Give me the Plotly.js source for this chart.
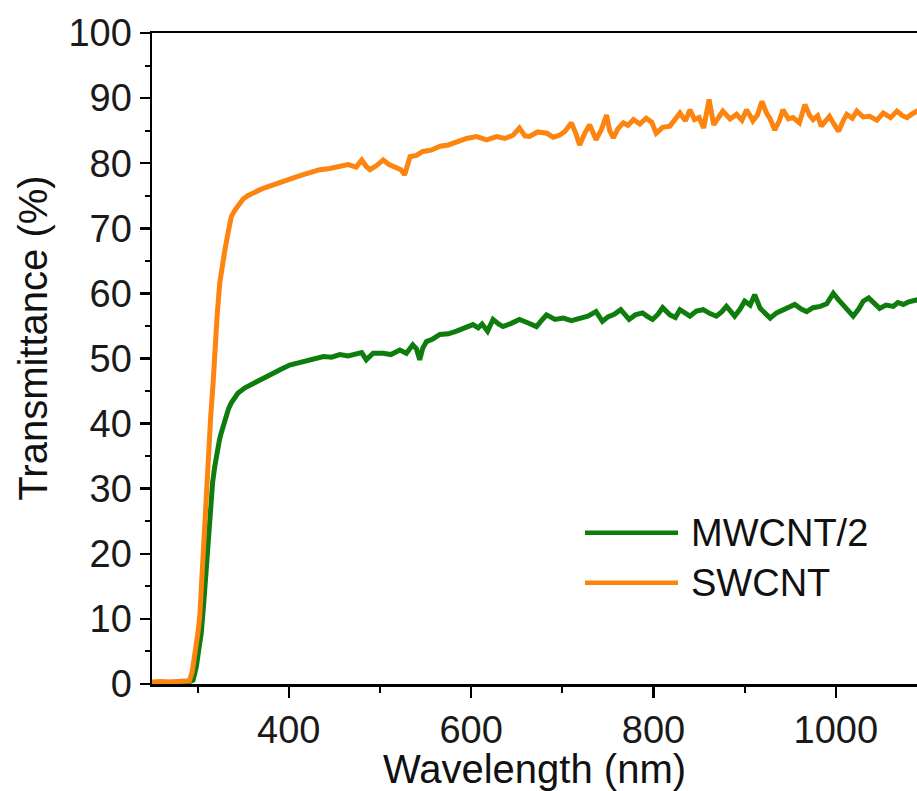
<!DOCTYPE html>
<html>
<head>
<meta charset="utf-8">
<script src="https://cdn.plot.ly/plotly-3.0.1.min.js"></script>
<style>html,body{margin:0;padding:0;background:#fff;}#chart{width:917px;height:791px;}</style>
</head>
<body>
<div id="chart"></div>
<script>
// Series names
const seriesNames = ["MWCNT/2", "SWCNT"];

// MWCNT/2 (green) wavelength (nm) and transmittance (%)
const mwcntX = [250, 260, 270, 280, 290, 295, 298.7, 301, 304, 307, 309.7, 311.5, 314.4, 316.5, 318.8, 321.4, 324, 326, 328.5, 330.9,
  334, 337, 341, 344.4, 352, 361, 372, 383, 392, 401, 410, 419, 427, 438, 447, 456, 465, 474, 480, 485,
  492.5, 503.5, 512, 521.8, 529, 536, 540, 543.6, 547, 551, 558, 565.7, 575, 584, 593, 602, 607.8, 612, 618, 624,
  630, 635, 644, 653, 662, 671.7, 677, 682.7, 692, 701, 710, 719, 728, 737, 744, 750, 757, 764, 769, 773.3,
  780, 788, 794, 799, 805, 810, 818, 824, 829, 835, 840, 847, 854.5, 862, 869, 875, 880, 885, 889, 895,
  900, 906, 911, 917, 922, 928, 935, 942, 948, 955, 962, 968, 975, 983, 990, 997.2, 1003, 1008, 1014, 1019,
  1025, 1030, 1036, 1042, 1048, 1055, 1063, 1068, 1074, 1080, 1089, 1095];
const mwcntY = [0.2, 0.2, 0.3, 0.2, 0.3, 0.6, 2.7, 5, 7.8, 12.9, 18.1, 23.2, 28.3, 31, 33.4, 36.0, 37.5, 38.6, 40, 41.1,
  42.3, 43.2, 44.1, 44.7, 45.5, 46.2, 47.0, 47.8, 48.4, 49.0, 49.3, 49.6, 49.8, 50.3, 50.2, 50.6, 50.4, 50.6, 50.9, 49.8,
  50.8, 50.8, 50.6, 51.3, 50.8, 52.1, 51.5, 49.8, 51.6, 52.6, 53.0, 53.7, 53.8, 54.2, 54.6, 55.2, 54.7, 55.3, 54.2, 56.0,
  55.3, 54.9, 55.4, 56.0, 55.5, 54.9, 55.8, 56.7, 56.0, 56.2, 55.8, 56.2, 56.5, 57.2, 55.7, 56.4, 56.8, 57.5, 56.6, 56.0,
  56.7, 57.0, 56.4, 56.0, 56.8, 57.8, 56.7, 56.3, 57.5, 57.0, 56.5, 57.3, 57.5, 56.9, 56.5, 57.2, 58.0, 57.2, 56.5, 57.6,
  58.8, 58.2, 59.8, 57.7, 57.0, 56.2, 57.0, 57.5, 58.0, 58.3, 57.6, 57.2, 57.8, 58.0, 58.4, 60.0, 59.0, 58.3, 57.4, 56.5,
  57.6, 58.8, 59.3, 58.4, 57.7, 58.2, 58.0, 58.6, 58.3, 58.7, 59.0, 58.6];

// SWCNT (orange) wavelength (nm) and transmittance (%)
const swcntX = [250, 260, 270, 280, 288, 291, 294, 296, 298.7, 300.5, 302.4, 304.2, 306, 307.8, 309.7, 312.2, 314.4, 317, 318.8, 321.4,
  324.3, 327, 330, 333.4, 337, 341, 346, 350, 355, 361, 368, 375, 382.5, 390, 397.5, 406, 415, 424, 434, 445,
  456, 465, 474, 480, 485, 489, 496, 503.5, 510, 518, 523, 527, 530, 533, 540, 547, 556, 566, 575, 584,
  595, 606, 617, 628, 637, 646, 653, 659, 664, 673, 683, 690, 697, 703, 710, 715, 719, 725, 730, 737,
  743, 748.5, 752, 756, 761, 767, 772, 778, 785, 792, 798, 803, 810, 818, 824, 829, 835, 840, 845, 850,
  855, 861, 866, 871, 876, 884, 891, 897, 902, 906, 909, 914, 919, 924, 928, 933, 938, 942, 948, 953,
  960, 966, 971, 975, 980, 984, 989, 993, 998, 1003, 1008, 1012, 1018, 1023, 1030, 1037, 1045, 1052, 1060, 1067,
  1073, 1078, 1084, 1089, 1095];
const swcntY = [0.3, 0.4, 0.3, 0.4, 0.3, 0.5, 1.8, 3.5, 5.3, 8, 10.4, 15.5, 20.6, 25.7, 30.9, 36, 41.1, 46.2, 51.4, 56.5,
  61.6, 64.5, 66.7, 69.3, 71.8, 72.8, 73.8, 74.5, 75.0, 75.5, 75.9, 76.3, 76.7, 77.1, 77.5, 77.8, 78.2, 78.6, 79.0, 79.2,
  79.5, 79.8, 79.4, 80.5, 79.5, 79.0, 79.6, 80.5, 79.8, 79.3, 79.0, 78.2, 79.5, 81.0, 81.2, 81.8, 82.0, 82.6, 82.8, 83.3,
  83.8, 84.1, 83.6, 84.1, 83.8, 84.3, 85.4, 84.2, 84.1, 84.8, 84.6, 84.0, 84.3, 84.9, 86.2, 84.5, 82.8, 84.7, 85.9, 83.6,
  85.2, 87.4, 85.0, 83.9, 85.3, 86.2, 85.8, 86.7, 86.0, 86.9, 86.3, 84.6, 85.5, 85.7, 86.8, 87.7, 86.5, 88.2, 86.7, 87.0,
  85.4, 89.8, 85.9, 87.0, 88.0, 86.8, 87.5, 86.6, 88.2, 87.3, 86.5, 87.4, 89.5, 87.7, 86.8, 85.1, 86.5, 88.2, 86.8, 87.0,
  86.2, 89.0, 87.4, 86.7, 87.3, 85.7, 86.5, 87.2, 86.0, 84.9, 86.5, 87.5, 86.9, 88.0, 87.1, 87.2, 86.6, 87.7, 87.0, 88.0,
  87.3, 87.0, 87.6, 88.0, 87.4];

const colors = ["#0e7d0e", "#fc840f"];
const FONT = "Arial, 'Liberation Sans', sans-serif";

const traces = [
  {x: mwcntX, y: mwcntY, type: "scatter", mode: "lines", name: seriesNames[0],
   line: {color: colors[0], width: 5}, showlegend: false},
  {x: swcntX, y: swcntY, type: "scatter", mode: "lines", name: seriesNames[1],
   line: {color: colors[1], width: 5}, showlegend: false}
];

// Custom legend placed in paper coordinates
const legY = [0.2324, 0.1556];
const shapes = [];
const annotations = [];
for (let i = 0; i < seriesNames.length; i++) {
  shapes.push({type: "line", xref: "paper", yref: "paper", x0: 0.566, x1: 0.6876, y0: legY[i], y1: legY[i],
               line: {color: colors[i], width: 4.5}});
  annotations.push({xref: "paper", yref: "paper", x: 0.702, y: legY[i], xanchor: "left", yanchor: "middle",
                    text: seriesNames[i], showarrow: false, font: {family: FONT, size: 38, color: "#111"}});
}
annotations.push({xref: "paper", yref: "paper", x: -0.1556, y: 0.532, xanchor: "center", yanchor: "middle",
                  textangle: -90, text: "Transmittance (%)", showarrow: false,
                  font: {family: FONT, size: 40, color: "#111"}});

const layout = {
  width: 917, height: 791,
  margin: {l: 152, r: 0, t: 33, b: 107},
  paper_bgcolor: "#fff", plot_bgcolor: "#fff",
  font: {family: FONT, color: "#000"},
  showlegend: false,
  xaxis: {
    range: [250, 1089], tick0: 0, dtick: 200,
    showgrid: false, zeroline: false,
    showline: true, linecolor: "#000", linewidth: 2.5, mirror: true,
    ticks: "outside", ticklen: 11, tickwidth: 2.5, tickcolor: "#000",
    minor: {dtick: 100, tick0: 0, ticks: "outside", ticklen: 6, tickwidth: 2, tickcolor: "#000", showgrid: false},
    tickfont: {family: FONT, size: 38, color: "#1a1a1a"},
    title: {text: "Wavelength (nm)", font: {family: FONT, size: 40, color: "#111"}, standoff: 4}
  },
  yaxis: {
    range: [0, 100], tick0: 0, dtick: 10,
    showgrid: false, zeroline: false,
    showline: true, linecolor: "#000", linewidth: 2.5,
    ticks: "outside", ticklen: 10, tickwidth: 2.5, tickcolor: "#000",
    minor: {dtick: 5, tick0: 0, ticks: "outside", ticklen: 5, tickwidth: 2, tickcolor: "#000", showgrid: false},
    tickfont: {family: FONT, size: 38, color: "#1a1a1a"}
  },
  shapes: shapes,
  annotations: annotations
};

Plotly.newPlot("chart", traces, layout, {staticPlot: true, displayModeBar: false});
</script>
</body>
</html>
